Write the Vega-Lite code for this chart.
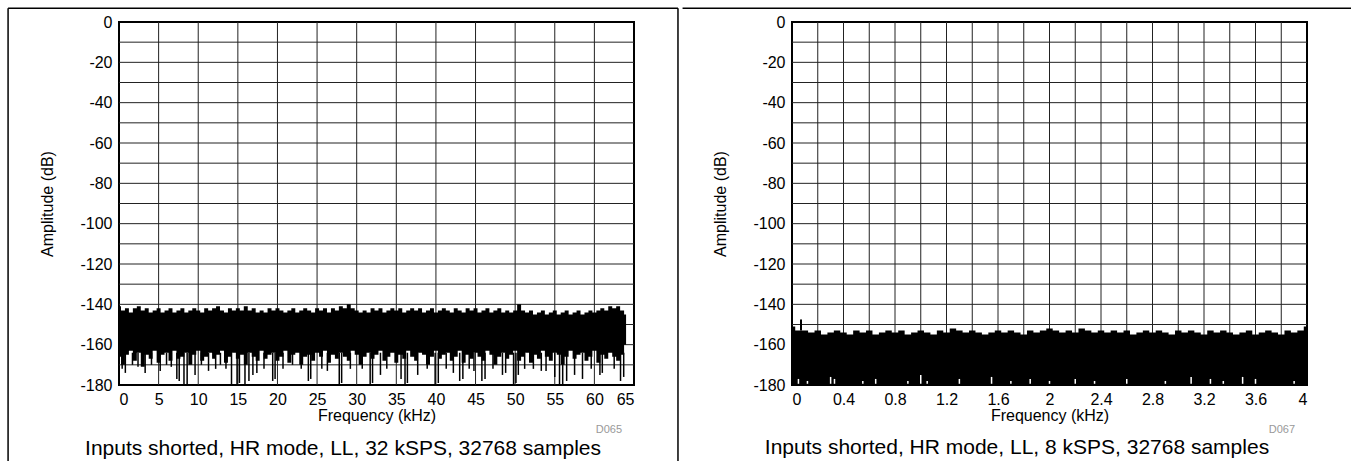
{
  "$schema": "https://vega.github.io/schema/vega-lite/v6.json",
  "background": "white",
  "padding": {"left": 6, "top": 6, "right": 0, "bottom": 0},
  "spacing": 0,
  "config": {
    "font": "Liberation Sans",
    "view": {"stroke": "black", "strokeWidth": 2},
    "axis": {"domain": false, "ticks": false, "grid": false, "labelOverlap": false, "labelFontSize": 16, "labelColor": "black", "titleFontSize": 16, "titleFontWeight": "normal", "titleColor": "black", "labelFont": "Liberation Sans", "titleFont": "Liberation Sans"},
    "title": {"font": "Liberation Sans", "fontSize": 21, "fontWeight": "normal", "color": "black"}
  },
  "datasets": {
    "gx32": [{"g":5},{"g":10},{"g":15},{"g":20},{"g":25},{"g":30},{"g":35},{"g":40},{"g":45},{"g":50},{"g":55},{"g":60}],
    "gx8": [{"g":0.2},{"g":0.4},{"g":0.6},{"g":0.8},{"g":1.0},{"g":1.2},{"g":1.4},{"g":1.6},{"g":1.8},{"g":2.0},{"g":2.2},{"g":2.4},{"g":2.6},{"g":2.8},{"g":3.0},{"g":3.2},{"g":3.4},{"g":3.6},{"g":3.8}],
    "gy": [{"g":-170},{"g":-160},{"g":-150},{"g":-140},{"g":-130},{"g":-120},{"g":-110},{"g":-100},{"g":-90},{"g":-80},{"g":-70},{"g":-60},{"g":-50},{"g":-40},{"g":-30},{"g":-20},{"g":-10}],
    "frameL": [
      {"a":-14.0,"b":-14.0,"c":6.8,"d":-218.7},
      {"a":-14.0,"b":70.55,"c":6.8,"d":6.8},
      {"a":70.55,"b":70.55,"c":6.8,"d":-218.7}
    ],
    "frameR": [
      {"a":-0.85,"b":4.345,"c":6.8,"d":6.8}
    ],
    "core32": [
      {"f":0,"top":-141,"bot":-166},{"f":0.5,"top":-143,"bot":-170},{"f":1,"top":-142,"bot":-165},{"f":1.5,"top":-144,"bot":-163},{"f":2,"top":-142,"bot":-168},{"f":2.5,"top":-141,"bot":-164},{"f":3,"top":-143,"bot":-171},{"f":3.5,"top":-142,"bot":-165},{"f":4,"top":-144,"bot":-167},{"f":4.5,"top":-143,"bot":-163},
      {"f":5,"top":-142,"bot":-169},{"f":5.5,"top":-144,"bot":-165},{"f":6,"top":-143,"bot":-164},{"f":6.5,"top":-142,"bot":-168},{"f":7,"top":-144,"bot":-163},{"f":7.5,"top":-143,"bot":-167},{"f":8,"top":-142,"bot":-166},{"f":8.5,"top":-144,"bot":-164},{"f":9,"top":-143,"bot":-170},{"f":9.5,"top":-142,"bot":-165},
      {"f":10,"top":-143,"bot":-163},{"f":10.5,"top":-144,"bot":-168},{"f":11,"top":-142,"bot":-166},{"f":11.5,"top":-143,"bot":-164},{"f":12,"top":-142,"bot":-167},{"f":12.5,"top":-141,"bot":-165},{"f":13,"top":-143,"bot":-163},{"f":13.5,"top":-144,"bot":-169},{"f":14,"top":-142,"bot":-166},{"f":14.5,"top":-143,"bot":-164},
      {"f":15,"top":-142,"bot":-167},{"f":15.5,"top":-143,"bot":-165},{"f":16,"top":-141,"bot":-170},{"f":16.5,"top":-143,"bot":-164},{"f":17,"top":-142,"bot":-166},{"f":17.5,"top":-144,"bot":-168},{"f":18,"top":-143,"bot":-163},{"f":18.5,"top":-144,"bot":-167},{"f":19,"top":-142,"bot":-165},{"f":19.5,"top":-143,"bot":-164},
      {"f":20,"top":-142,"bot":-168},{"f":20.5,"top":-143,"bot":-166},{"f":21,"top":-144,"bot":-163},{"f":21.5,"top":-143,"bot":-169},{"f":22,"top":-142,"bot":-165},{"f":22.5,"top":-144,"bot":-164},{"f":23,"top":-143,"bot":-170},{"f":23.5,"top":-142,"bot":-166},{"f":24,"top":-143,"bot":-165},{"f":24.5,"top":-144,"bot":-168},
      {"f":25,"top":-142,"bot":-164},{"f":25.5,"top":-143,"bot":-166},{"f":26,"top":-142,"bot":-163},{"f":26.5,"top":-144,"bot":-169},{"f":27,"top":-142,"bot":-165},{"f":27.5,"top":-143,"bot":-167},{"f":28,"top":-141,"bot":-164},{"f":28.5,"top":-142,"bot":-166},{"f":29,"top":-140,"bot":-168},{"f":29.5,"top":-142,"bot":-163},
      {"f":30,"top":-143,"bot":-165},{"f":30.5,"top":-144,"bot":-170},{"f":31,"top":-143,"bot":-166},{"f":31.5,"top":-144,"bot":-164},{"f":32,"top":-142,"bot":-167},{"f":32.5,"top":-143,"bot":-165},{"f":33,"top":-142,"bot":-163},{"f":33.5,"top":-144,"bot":-168},{"f":34,"top":-143,"bot":-166},{"f":34.5,"top":-142,"bot":-164},
      {"f":35,"top":-143,"bot":-169},{"f":35.5,"top":-142,"bot":-165},{"f":36,"top":-144,"bot":-167},{"f":36.5,"top":-143,"bot":-163},{"f":37,"top":-142,"bot":-166},{"f":37.5,"top":-143,"bot":-168},{"f":38,"top":-142,"bot":-164},{"f":38.5,"top":-144,"bot":-165},{"f":39,"top":-143,"bot":-170},{"f":39.5,"top":-142,"bot":-166},
      {"f":40,"top":-144,"bot":-163},{"f":40.5,"top":-143,"bot":-167},{"f":41,"top":-142,"bot":-165},{"f":41.5,"top":-143,"bot":-164},{"f":42,"top":-144,"bot":-168},{"f":42.5,"top":-142,"bot":-166},{"f":43,"top":-143,"bot":-163},{"f":43.5,"top":-144,"bot":-169},{"f":44,"top":-142,"bot":-165},{"f":44.5,"top":-143,"bot":-167},
      {"f":45,"top":-142,"bot":-164},{"f":45.5,"top":-144,"bot":-166},{"f":46,"top":-143,"bot":-168},{"f":46.5,"top":-142,"bot":-163},{"f":47,"top":-144,"bot":-165},{"f":47.5,"top":-143,"bot":-170},{"f":48,"top":-142,"bot":-166},{"f":48.5,"top":-144,"bot":-164},{"f":49,"top":-143,"bot":-167},{"f":49.5,"top":-144,"bot":-165},
      {"f":50,"top":-143,"bot":-163},{"f":50.5,"top":-140,"bot":-168},{"f":51,"top":-143,"bot":-166},{"f":51.5,"top":-144,"bot":-164},{"f":52,"top":-143,"bot":-169},{"f":52.5,"top":-145,"bot":-165},{"f":53,"top":-144,"bot":-167},{"f":53.5,"top":-143,"bot":-163},{"f":54,"top":-145,"bot":-166},{"f":54.5,"top":-144,"bot":-168},
      {"f":55,"top":-143,"bot":-164},{"f":55.5,"top":-145,"bot":-165},{"f":56,"top":-144,"bot":-170},{"f":56.5,"top":-143,"bot":-166},{"f":57,"top":-145,"bot":-163},{"f":57.5,"top":-144,"bot":-167},{"f":58,"top":-143,"bot":-165},{"f":58.5,"top":-145,"bot":-164},{"f":59,"top":-144,"bot":-168},{"f":59.5,"top":-143,"bot":-166},
      {"f":60,"top":-144,"bot":-163},{"f":60.5,"top":-143,"bot":-169},{"f":61,"top":-142,"bot":-165},{"f":61.5,"top":-143,"bot":-167},{"f":62,"top":-141,"bot":-164},{"f":62.5,"top":-142,"bot":-166},{"f":63,"top":-141,"bot":-168},{"f":63.5,"top":-143,"bot":-165},{"f":64,"top":-145,"bot":-160}
    ],
    "spikes32": [
      {"f":0.4,"low":-172},{"f":0.8,"low":-174},{"f":1.7,"low":-170},{"f":2.4,"low":-171},{"f":3.3,"low":-174},{"f":4.1,"low":-170},{"f":5.2,"low":-173},{"f":6.0,"low":-170},{"f":6.6,"low":-171},{"f":7.3,"low":-177},
      {"f":7.6,"low":-178},{"f":8.2,"low":-180},{"f":8.6,"low":-180},{"f":9.6,"low":-175},{"f":10.4,"low":-170},{"f":11.3,"low":-173},{"f":12.2,"low":-172},{"f":12.8,"low":-170},{"f":13.5,"low":-172},{"f":14.2,"low":-180},
      {"f":14.9,"low":-180},{"f":15.2,"low":-179},{"f":15.9,"low":-180},{"f":16.4,"low":-178},{"f":16.9,"low":-175},{"f":17.4,"low":-174},{"f":18.3,"low":-172},{"f":19.4,"low":-178},{"f":19.7,"low":-177},{"f":20.7,"low":-172},
      {"f":21.9,"low":-170},{"f":23.0,"low":-172},{"f":23.9,"low":-178},{"f":24.2,"low":-177},{"f":25.6,"low":-172},{"f":26.3,"low":-173},{"f":27.8,"low":-180},{"f":28.1,"low":-179},{"f":29.2,"low":-172},{"f":30.7,"low":-172},
      {"f":31.7,"low":-180},{"f":32.0,"low":-179},{"f":33.0,"low":-175},{"f":33.8,"low":-172},{"f":35.6,"low":-177},{"f":36.1,"low":-180},{"f":36.4,"low":-179},{"f":37.7,"low":-175},{"f":38.9,"low":-172},{"f":39.9,"low":-180},
      {"f":40.3,"low":-179},{"f":41.3,"low":-172},{"f":42.2,"low":-174},{"f":43.0,"low":-178},{"f":43.4,"low":-177},{"f":44.2,"low":-172},{"f":44.8,"low":-173},{"f":45.8,"low":-178},{"f":46.2,"low":-177},{"f":47.2,"low":-172},
      {"f":48.4,"low":-175},{"f":48.8,"low":-174},{"f":49.8,"low":-180},{"f":50.1,"low":-179},{"f":50.4,"low":-175},{"f":51.2,"low":-172},{"f":52.3,"low":-172},{"f":53.3,"low":-173},{"f":53.9,"low":-173},{"f":55.0,"low":-176},
      {"f":55.6,"low":-180},{"f":56.0,"low":-180},{"f":56.5,"low":-178},{"f":57.5,"low":-175},{"f":58.5,"low":-177},{"f":59.6,"low":-172},{"f":60.7,"low":-175},{"f":61.0,"low":-174},{"f":62.5,"low":-172},{"f":63.3,"low":-178},{"f":63.7,"low":-176}
    ],
    "core8": [
      {"f":0,"top":-151},{"f":0.05,"top":-153},{"f":0.1,"top":-153},{"f":0.15,"top":-154},{"f":0.2,"top":-153},{"f":0.25,"top":-155},{"f":0.3,"top":-154},{"f":0.35,"top":-153},{"f":0.4,"top":-154},{"f":0.45,"top":-155},
      {"f":0.5,"top":-153},{"f":0.55,"top":-154},{"f":0.6,"top":-153},{"f":0.65,"top":-155},{"f":0.7,"top":-154},{"f":0.75,"top":-153},{"f":0.8,"top":-154},{"f":0.85,"top":-153},{"f":0.9,"top":-155},{"f":0.95,"top":-154},
      {"f":1.0,"top":-153},{"f":1.05,"top":-154},{"f":1.1,"top":-155},{"f":1.15,"top":-153},{"f":1.2,"top":-154},{"f":1.25,"top":-152},{"f":1.3,"top":-153},{"f":1.35,"top":-154},{"f":1.4,"top":-153},{"f":1.45,"top":-154},
      {"f":1.5,"top":-155},{"f":1.55,"top":-154},{"f":1.6,"top":-153},{"f":1.65,"top":-154},{"f":1.7,"top":-153},{"f":1.75,"top":-154},{"f":1.8,"top":-155},{"f":1.85,"top":-153},{"f":1.9,"top":-154},{"f":1.95,"top":-153},
      {"f":2.0,"top":-152},{"f":2.05,"top":-153},{"f":2.1,"top":-154},{"f":2.15,"top":-153},{"f":2.2,"top":-154},{"f":2.25,"top":-152},{"f":2.3,"top":-153},{"f":2.35,"top":-154},{"f":2.4,"top":-153},{"f":2.45,"top":-154},
      {"f":2.5,"top":-153},{"f":2.55,"top":-154},{"f":2.6,"top":-153},{"f":2.65,"top":-155},{"f":2.7,"top":-154},{"f":2.75,"top":-153},{"f":2.8,"top":-154},{"f":2.85,"top":-153},{"f":2.9,"top":-154},{"f":2.95,"top":-155},
      {"f":3.0,"top":-153},{"f":3.05,"top":-154},{"f":3.1,"top":-153},{"f":3.15,"top":-154},{"f":3.2,"top":-155},{"f":3.25,"top":-153},{"f":3.3,"top":-154},{"f":3.35,"top":-153},{"f":3.4,"top":-154},{"f":3.45,"top":-155},
      {"f":3.5,"top":-154},{"f":3.55,"top":-153},{"f":3.6,"top":-155},{"f":3.65,"top":-154},{"f":3.7,"top":-153},{"f":3.75,"top":-154},{"f":3.8,"top":-155},{"f":3.85,"top":-153},{"f":3.9,"top":-154},{"f":3.95,"top":-153},{"f":4.0,"top":-151}
    ],
    "peaks8": [
      {"f":0.07,"hi":-147.5,"base":-153}
    ],
    "notches8": [
      {"f":0.05,"n":-177},{"f":0.12,"n":-178},{"f":0.3,"n":-176},{"f":0.33,"n":-177},{"f":0.55,"n":-178},{"f":0.65,"n":-177},{"f":0.9,"n":-178},{"f":1.0,"n":-175},{"f":1.05,"n":-178},{"f":1.3,"n":-177},
      {"f":1.55,"n":-176},{"f":1.7,"n":-178},{"f":1.85,"n":-177},{"f":2.0,"n":-178},{"f":2.2,"n":-177},{"f":2.35,"n":-178},{"f":2.6,"n":-177},{"f":2.9,"n":-178},{"f":3.1,"n":-176},{"f":3.25,"n":-177},
      {"f":3.35,"n":-178},{"f":3.5,"n":-176},{"f":3.6,"n":-177},{"f":3.9,"n":-178}
    ]
  },
  "hconcat": [
    {
      "width": 515,
      "height": 363,
      "title": {"text": "Inputs shorted, HR mode, LL, 32 kSPS, 32768 samples", "orient": "bottom", "anchor": "middle", "frame": "bounds", "offset": -26},
      "layer": [
        {
          "data": {"name": "gx32"},
          "mark": {"type": "rule", "color": "#222222", "strokeWidth": 1},
          "encoding": {"x": {"field": "g", "type": "quantitative", "scale": {"domain": [0, 65], "nice": false}, "axis": {"title": "Frequency (kHz)", "values": [0,5,10,15,20,25,30,35,40,45,50,55,60,65], "tickCount": 40, "labelExpr": "'' + datum.value", "labelPadding": 6, "titlePadding": 0}}}
        },
        {
          "data": {"name": "gy"},
          "mark": {"type": "rule", "color": "#222222", "strokeWidth": 1},
          "encoding": {"y": {"field": "g", "type": "quantitative", "scale": {"domain": [-180, 0], "nice": false}, "axis": {"title": "Amplitude (dB)", "values": [-180,-160,-140,-120,-100,-80,-60,-40,-20,0], "tickCount": 40, "labelExpr": "'' + datum.value", "labelPadding": 7, "titlePadding": 24}}}
        },
        {
          "data": {"name": "core32"},
          "mark": {"type": "area", "color": "black", "interpolate": "step"},
          "encoding": {
            "x": {"field": "f", "type": "quantitative"},
            "y": {"field": "top", "type": "quantitative"},
            "y2": {"field": "bot"}
          }
        },
        {
          "data": {"name": "spikes32"},
          "mark": {"type": "rule", "color": "black", "strokeWidth": 1.5},
          "encoding": {
            "x": {"field": "f", "type": "quantitative"},
            "y": {"field": "low", "type": "quantitative"},
            "y2": {"datum": -164}
          }
        },
        {
          "data": {"values": [{"id": "D065"}]},
          "mark": {"type": "text", "align": "right", "baseline": "top", "fontSize": 11, "color": "#999999", "dx": -12, "dy": 39},
          "encoding": {
            "x": {"datum": 65, "type": "quantitative"},
            "y": {"datum": -180, "type": "quantitative"},
            "text": {"field": "id", "type": "nominal"}
          }
        },
        {
          "data": {"name": "frameL"},
          "mark": {"type": "rule", "color": "black", "strokeWidth": 1.5, "clip": false},
          "encoding": {
            "x": {"field": "a", "type": "quantitative"},
            "x2": {"field": "b"},
            "y": {"field": "c", "type": "quantitative"},
            "y2": {"field": "d"}
          }
        }
      ]
    },
    {
      "width": 515,
      "height": 363,
      "title": {"text": "Inputs shorted, HR mode, LL, 8 kSPS, 32768 samples", "orient": "bottom", "anchor": "middle", "frame": "bounds", "offset": 2},
      "layer": [
        {
          "data": {"name": "gx8"},
          "mark": {"type": "rule", "color": "#222222", "strokeWidth": 1},
          "encoding": {"x": {"field": "g", "type": "quantitative", "scale": {"domain": [0, 4], "nice": false}, "axis": {"title": "Frequency (kHz)", "values": [0,0.4,0.8,1.2,1.6,2,2.4,2.8,3.2,3.6,4], "tickCount": 40, "labelExpr": "'' + datum.value", "labelPadding": 6, "titlePadding": 0}}}
        },
        {
          "data": {"name": "gy"},
          "mark": {"type": "rule", "color": "#222222", "strokeWidth": 1},
          "encoding": {"y": {"field": "g", "type": "quantitative", "scale": {"domain": [-180, 0], "nice": false}, "axis": {"title": "Amplitude (dB)", "values": [-180,-160,-140,-120,-100,-80,-60,-40,-20,0], "tickCount": 40, "labelExpr": "'' + datum.value", "labelPadding": 7, "titlePadding": 24}}}
        },
        {
          "data": {"name": "core8"},
          "mark": {"type": "area", "color": "black", "interpolate": "step"},
          "encoding": {
            "x": {"field": "f", "type": "quantitative"},
            "y": {"field": "top", "type": "quantitative"},
            "y2": {"datum": -180}
          }
        },
        {
          "data": {"name": "peaks8"},
          "mark": {"type": "rule", "color": "black", "strokeWidth": 2},
          "encoding": {
            "x": {"field": "f", "type": "quantitative"},
            "y": {"field": "hi", "type": "quantitative"},
            "y2": {"field": "base"}
          }
        },
        {
          "data": {"name": "notches8"},
          "mark": {"type": "rule", "color": "white", "strokeWidth": 1.5},
          "encoding": {
            "x": {"field": "f", "type": "quantitative"},
            "y": {"field": "n", "type": "quantitative"},
            "y2": {"datum": -179.4}
          }
        },
        {
          "data": {"values": [{"id": "D067"}]},
          "mark": {"type": "text", "align": "right", "baseline": "top", "fontSize": 11, "color": "#999999", "dx": -12, "dy": 39},
          "encoding": {
            "x": {"datum": 4, "type": "quantitative"},
            "y": {"datum": -180, "type": "quantitative"},
            "text": {"field": "id", "type": "nominal"}
          }
        },
        {
          "data": {"name": "frameR"},
          "mark": {"type": "rule", "color": "black", "strokeWidth": 1.5, "clip": false},
          "encoding": {
            "x": {"field": "a", "type": "quantitative"},
            "x2": {"field": "b"},
            "y": {"field": "c", "type": "quantitative"},
            "y2": {"field": "d"}
          }
        }
      ]
    }
  ]
}
